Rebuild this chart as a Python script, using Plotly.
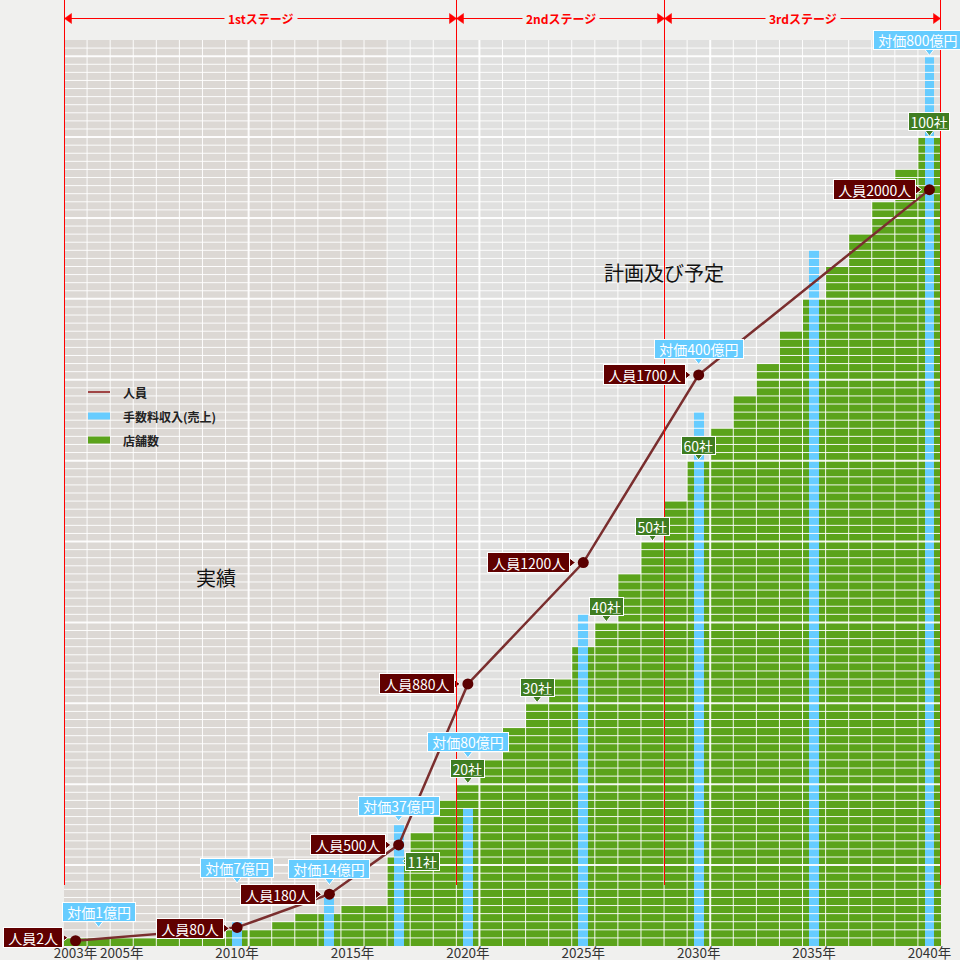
import plotly.graph_objects as go

# ---------------- data ----------------
years = list(range(2003, 2041))
stores = [1, 1, 1, 1, 1, 1, 1,
          2, 2, 3, 4, 4, 5, 5,
          11, 14, 18, 20,
          23, 27, 30, 33, 37, 40, 46, 50, 55, 60,
          64, 68, 72, 76, 80, 84, 88, 92, 96, 100]

fee_years = [2004, 2010, 2014, 2017, 2020, 2025, 2030, 2035, 2040]
fee_height = [0, 3, 6, 15, 17, 41, 66, 86, 110]
fee_oku = [1, 7, 14, 37, 80, None, 400, None, 800]

staff_years = [2003, 2010, 2014, 2017, 2020, 2025, 2030, 2040]
staff_count = [2, 80, 180, 500, 880, 1200, 1700, 2000]
staff_height = [0.65, 2.3, 6.4, 12.5, 32.4, 47.4, 70.6, 93.5]

store_label_years = [2017, 2020, 2023, 2026, 2028, 2030, 2040]

stage_names = ["1stステージ", "2ndステージ", "3rdステージ"]
stage_first_year = [2003, 2020, 2029]
stage_last_year = [2019, 2028, 2040]

actual_last_year = 2016

tick_years = [2003, 2005, 2010, 2015, 2020, 2025, 2030, 2035, 2040]
tick_text = [f"{y}年" for y in tick_years]

legend_names = ["人員", "手数料収入(売上)", "店舗数"]

# ---------------- layout constants ----------------
FIG_W = FIG_H = 960
ML, MR, MT, MB = 64, 19, 40, 14
PW = FIG_W - ML - MR
PH = FIG_H - MT - MB
XMIN, XMAX = min(years) - 0.5, max(years) + 0.5
YMAX = 112
PXX = PW / (XMAX - XMIN)
PXY = PH / YMAX

FONT = "Noto Sans CJK JP"
PAGE_BG = "#f0f0ee"
BG_PLAN = "#e0e0df"
BG_ACTUAL = "#dcd8d4"
GREEN = "#5ba31b"
BLUE = "#66ccff"
STAFF_BOX = "#600000"
STAFF_LINE = "#7a2e2e"
STORE_BOX = "#3f7d21"
RED = "#ff0000"
LABEL_FONT = 14
PTR = 10            # pointer marker size
PTR_RT = PTR / 2 * 2 / 3 ** 0.5   # distance from marker centre to tip
SP = "\u00a0"


def pxX(px):
    return (px - ML) / PW


def pxY(py):
    return (FIG_H - MB - py) / PH


def data_px(x):
    return ML + (x - XMIN) * PXX


def crisp(px):
    return round(px - 0.5) + 0.5


fig = go.Figure()

# bars
fig.add_trace(go.Bar(x=years, y=stores, width=1.0, marker=dict(color=GREEN, line=dict(width=0)),
                     name=legend_names[2], showlegend=False, hoverinfo="skip"))
fig.add_trace(go.Bar(x=fee_years, y=fee_height, width=0.43, marker=dict(color=BLUE, line=dict(width=0)),
                     name=legend_names[1], showlegend=False, hoverinfo="skip"))


# grid drawn above the bars
def grid_trace(thick):
    xs, ys = [], []
    for k in range(int(XMIN + 1), int(XMAX) + 1):
        v = k + 0.5
        if v >= XMAX:
            continue
        if (k % 10 == 0) == thick:
            xs += [v, v, None]
            ys += [0, YMAX, None]
    for k in range(1, YMAX):
        if (k % 10 == 0) == thick:
            xs += [XMIN, XMAX, None]
            ys += [k, k, None]
    return go.Scatter(x=xs, y=ys, mode="lines", line=dict(color="rgba(255,255,255,0.92)", width=2 if thick else 1),
                      showlegend=False, hoverinfo="skip", connectgaps=False)


fig.add_trace(grid_trace(False))
fig.add_trace(grid_trace(True))

# staff line
fig.add_trace(go.Scatter(x=staff_years, y=staff_height, mode="lines+markers",
                         line=dict(color=STAFF_LINE, width=2.5),
                         marker=dict(color="#5a0000", size=11),
                         name=legend_names[0], showlegend=False, hoverinfo="skip"))

annotations = []

# staff labels
ptr_staff_x, ptr_staff_y = [], []
staff_dy = [3, -1, 0, 0, 0, 0, 0, 0]
for yr, cnt, h, dy in zip(staff_years, staff_count, staff_height, staff_dy):
    annotations.append(dict(x=yr, y=h, xref="x", yref="y", text=f"{SP}人員{cnt}人{SP}", showarrow=False,
                            xanchor="right", yanchor="middle", xshift=-13, yshift=dy, height=17,
                            bgcolor=STAFF_BOX, bordercolor="white", borderwidth=1, borderpad=1,
                            font=dict(family=FONT, size=LABEL_FONT, color="white")))
    ptr_staff_x.append(yr - (7 + PTR_RT) / PXX)
    ptr_staff_y.append(h + dy / PXY)

# fee labels
fee_tip_offset = [18, 38, 12, 3, 50, 0, 47, 0, 0]
fee_xshift = [0, 0, 0, 0, 0, 0, 0, 0, -11]
ptr_fee_x, ptr_fee_y = [], []
for yr, h, oku, off, xs in zip(fee_years, fee_height, fee_oku, fee_tip_offset, fee_xshift):
    if oku is None:
        continue
    annotations.append(dict(x=yr, y=h, xref="x", yref="y", text=f"{SP}対価{oku}億円{SP}", showarrow=False,
                            xanchor="center", yanchor="bottom", xshift=xs, yshift=off + 6, height=16,
                            bgcolor=BLUE, bordercolor="white", borderwidth=1, borderpad=1,
                            font=dict(family=FONT, size=LABEL_FONT, color="white")))
    ptr_fee_x.append(yr)
    ptr_fee_y.append(h + (off + PTR_RT) / PXY)

# store labels
ptr_store_x, ptr_store_y = [], []
ptr_store_l_x, ptr_store_l_y = [], []
for yr in store_label_years:
    v = stores[years.index(yr)]
    if yr == 2017:
        annotations.append(dict(x=yr, y=v, xref="x", yref="y", text=f"{v}社", showarrow=False,
                                xanchor="left", yanchor="middle", xshift=6.7, yshift=-4, height=14,
                                bgcolor=STORE_BOX, bordercolor="white", borderwidth=1, borderpad=1.5,
                                font=dict(family=FONT, size=LABEL_FONT, color="white")))
        ptr_store_l_x.append(yr + (3.3 + PTR_RT) / PXX)
        ptr_store_l_y.append(v - 4 / PXY)
    else:
        annotations.append(dict(x=yr, y=v, xref="x", yref="y", text=f"{v}社", showarrow=False,
                                xanchor="center", yanchor="bottom", yshift=6, height=14,
                                bgcolor=STORE_BOX, bordercolor="white", borderwidth=1, borderpad=1.5,
                                font=dict(family=FONT, size=LABEL_FONT, color="white")))
        ptr_store_x.append(yr)
        ptr_store_y.append(v + PTR_RT / PXY)

ptr_line = dict(color="white", width=1)
fig.add_trace(go.Scatter(x=ptr_staff_x, y=ptr_staff_y, mode="markers",
                         marker=dict(symbol="triangle-right", size=PTR, color=STAFF_BOX, line=ptr_line),
                         showlegend=False, hoverinfo="skip"))
fig.add_trace(go.Scatter(x=ptr_fee_x, y=ptr_fee_y, mode="markers",
                         marker=dict(symbol="triangle-down", size=PTR, color=BLUE, line=ptr_line),
                         showlegend=False, hoverinfo="skip"))
fig.add_trace(go.Scatter(x=ptr_store_x, y=ptr_store_y, mode="markers",
                         marker=dict(symbol="triangle-down", size=PTR, color=STORE_BOX, line=ptr_line),
                         showlegend=False, hoverinfo="skip"))
fig.add_trace(go.Scatter(x=ptr_store_l_x, y=ptr_store_l_y, mode="markers",
                         marker=dict(symbol="triangle-left", size=PTR, color=STORE_BOX, line=ptr_line),
                         showlegend=False, hoverinfo="skip"))

# region texts
annotations.append(dict(x=2009.1, y=45.5, xref="x", yref="y", text="実績", showarrow=False,
                        font=dict(family=FONT, size=20, color="#111111")))
annotations.append(dict(x=2028.5, y=83.3, xref="x", yref="y", text="計画及び予定", showarrow=False,
                        font=dict(family=FONT, size=20, color="#111111")))

shapes = []
# actual-results background
shapes.append(dict(type="rect", xref="x", yref="y", x0=XMIN, x1=actual_last_year + 0.5, y0=0, y1=YMAX,
                   fillcolor=BG_ACTUAL, line=dict(width=0), layer="below"))

# stage markers
bounds = sorted(set([f - 0.5 for f in stage_first_year] + [l + 0.5 for l in stage_last_year]))
y_top_page = pxY(0)
y_red_bottom = pxY(885)
y_arrow = pxY(18.5)
bound_paper = {}
for b in bounds:
    xp = pxX(crisp(data_px(b)))
    bound_paper[b] = xp
    shapes.append(dict(type="line", xref="paper", yref="paper", x0=xp, x1=xp, y0=y_red_bottom, y1=y_top_page,
                       line=dict(color=RED, width=1), layer="above"))

tri_dx = 7 / PW
tri_dy = 5 / PH


def tri_path(x_tip, y, direction):
    xb = x_tip - direction * tri_dx
    return f"M {x_tip},{y} L {xb},{y + tri_dy} L {xb},{y - tri_dy} Z"


for name, f, l in zip(stage_names, stage_first_year, stage_last_year):
    x0 = bound_paper[f - 0.5]
    x1 = bound_paper[l + 0.5]
    shapes.append(dict(type="line", xref="paper", yref="paper", x0=x0, x1=x1, y0=y_arrow, y1=y_arrow,
                       line=dict(color=RED, width=1), layer="above"))
    shapes.append(dict(type="path", xref="paper", yref="paper", path=tri_path(x0, y_arrow, -1),
                       fillcolor=RED, line=dict(color=RED, width=0.5), layer="above"))
    shapes.append(dict(type="path", xref="paper", yref="paper", path=tri_path(x1, y_arrow, 1),
                       fillcolor=RED, line=dict(color=RED, width=0.5), layer="above"))
    annotations.append(dict(x=(x0 + x1) / 2, y=y_arrow, xref="paper", yref="paper", text=f"<b>{name}</b>",
                            showarrow=False, bgcolor=PAGE_BG, borderpad=3, xanchor="center", yanchor="middle",
                            font=dict(family=FONT, size=12, color=RED)))

# manual legend
leg_y = [392, 416, 440]
shapes.append(dict(type="line", xref="paper", yref="paper", x0=pxX(88), x1=pxX(110), y0=pxY(leg_y[0]),
                   y1=pxY(leg_y[0]), line=dict(color="#a04545", width=2)))
shapes.append(dict(type="rect", xref="paper", yref="paper", x0=pxX(88), x1=pxX(110), y0=pxY(leg_y[1] + 3.5),
                   y1=pxY(leg_y[1] - 3.5), fillcolor=BLUE, line=dict(width=0)))
shapes.append(dict(type="rect", xref="paper", yref="paper", x0=pxX(88), x1=pxX(110), y0=pxY(leg_y[2] + 3.5),
                   y1=pxY(leg_y[2] - 3.5), fillcolor=GREEN, line=dict(width=0)))
for name, ly in zip(legend_names, leg_y):
    annotations.append(dict(x=pxX(121), y=pxY(ly), xref="paper", yref="paper", text=f"<b>{name}</b>",
                            showarrow=False, xanchor="left", yanchor="middle",
                            font=dict(family=FONT, size=12, color="#222222")))

fig.update_layout(
    width=FIG_W, height=FIG_H,
    margin=dict(l=ML, r=MR, t=MT, b=MB, pad=0),
    paper_bgcolor=PAGE_BG, plot_bgcolor=BG_PLAN,
    barmode="overlay", bargap=0,
    showlegend=False,
    font=dict(family=FONT, size=12, color="#333333"),
    xaxis=dict(range=[XMIN, XMAX], tickvals=tick_years, ticktext=tick_text, ticks="",
               showgrid=False, zeroline=False, showline=False, automargin=False,
               ticklabelstandoff=-3,
               tickfont=dict(family=FONT, size=13.5, color="#333333"), fixedrange=True),
    yaxis=dict(range=[0, YMAX], visible=False, showgrid=False, zeroline=False, fixedrange=True),
    shapes=shapes,
    annotations=annotations,
)

fig.write_html("out.html")
